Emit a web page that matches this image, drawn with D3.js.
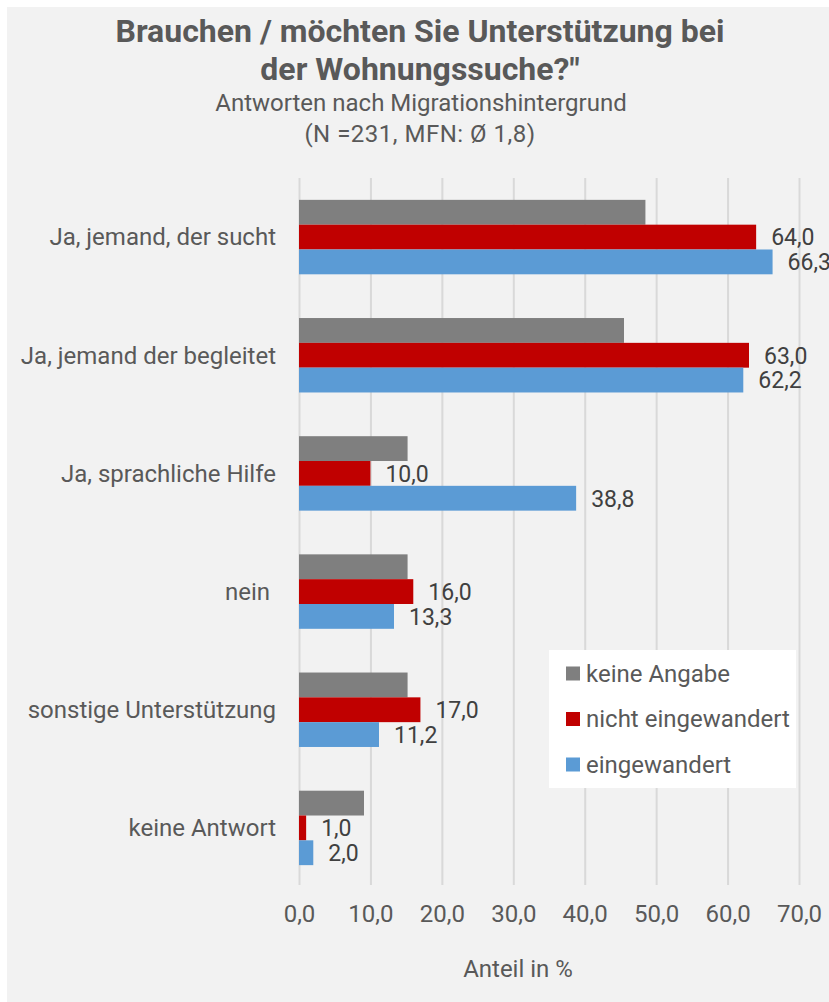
<!DOCTYPE html>
<html>
<head>
<meta charset="utf-8">
<script src="https://cdn.jsdelivr.net/npm/d3@7"></script>
<style>
  body { margin: 0; background: #fff; }
  svg text { font-family: Roboto, "Liberation Sans", sans-serif; }
</style>
</head>
<body>
<svg id="chart" width="829" height="1002"></svg>
<script>
// data
const categories = ["Ja, jemand, der sucht", "Ja, jemand der begleitet", "Ja, sprachliche Hilfe", "nein ", "sonstige Unterstützung", "keine Antwort"]
const seriesNames = ["keine Angabe", "nicht eingewandert", "eingewandert"]
const keineAngabe = [48.5, 45.5, 15.2, 15.2, 15.2, 9.1]
const nichtEingewandert = [64.0, 63.0, 10.0, 16.0, 17.0, 1.0]
const eingewandert = [66.3, 62.2, 38.8, 13.3, 11.2, 2.0]
// gray series has no labels in the original
const showLabel = [false, true, true]
const ticks = [0, 10, 20, 30, 40, 50, 60, 70]
const colors = ["#7f7f7f", "#c00000", "#5b9bd5"]

const values = [keineAngabe, nichtEingewandert, eingewandert]

const de = d3.formatLocale({decimal: ",", thousands: ".", grouping: [3], currency: ["", " €"]})
const fmt = de.format(".1f")

const svg = d3.select("#chart")

// panel background
svg.append("rect")
  .attr("x", 7).attr("y", 7)
  .attr("width", 822).attr("height", 995)
  .attr("fill", "#f2f2f2")

// titles
const titles = svg.append("g").attr("text-anchor", "middle").attr("fill", "#595959")
titles.append("text").attr("x", 420).attr("y", 42)
  .attr("font-size", "32px").attr("font-weight", "bold")
  .text("Brauchen / möchten Sie Unterstützung bei")
titles.append("text").attr("x", 420).attr("y", 80)
  .attr("font-size", "32px").attr("font-weight", "bold")
  .text("der Wohnungssuche?\"")
titles.append("text").attr("x", 421).attr("y", 111)
  .attr("font-size", "24px")
  .text("Antworten nach Migrationshintergrund")
titles.append("text").attr("x", 420).attr("y", 142)
  .attr("font-size", "24px")
  .attr("letter-spacing", "0.5px")
  .text("(N =231, MFN: Ø 1,8)")

const x = d3.scaleLinear().domain([0, 70]).range([299, 799])
const y = d3.scaleBand().domain(categories).range([178, 887]).paddingInner(0.37).paddingOuter(0.185)
const ySub = d3.scaleBand().domain(seriesNames).range([0, y.bandwidth()])

// gridlines + tick labels
const xAxis = d3.axisBottom(x)
  .tickValues(ticks)
  .tickFormat(fmt)
  .tickSize(-(885 - 178))
  .tickPadding(20)

const ax = svg.append("g")
  .attr("transform", "translate(0,885)")
  .call(xAxis)
ax.select(".domain").remove()
ax.selectAll(".tick line").attr("stroke", "#d9d9d9").attr("stroke-width", 2)
ax.selectAll(".tick text")
  .attr("fill", "#595959")
  .attr("font-size", "24px")
  .attr("font-family", "Roboto, 'Liberation Sans', sans-serif")

svg.append("text")
  .attr("x", 518).attr("y", 977)
  .attr("text-anchor", "middle")
  .attr("fill", "#595959")
  .attr("font-size", "24px")
  .text("Anteil in %")

// category labels
svg.append("g").selectAll("text")
  .data(categories)
  .enter()
  .append("text")
  .attr("x", 276)
  .attr("y", d => y(d) + y.bandwidth() / 2)
  .attr("dy", "0.35em")
  .attr("text-anchor", "end")
  .attr("fill", "#595959")
  .attr("font-size", "24px")
  .style("white-space", "pre")
  .text(d => d)

// bars
const rows = []
categories.forEach((c, i) => {
  seriesNames.forEach((s, j) => {
    rows.push({cat: c, series: s, idx: j, value: values[j][i]})
  })
})

svg.append("g").selectAll("rect")
  .data(rows)
  .enter()
  .append("rect")
  .attr("x", x(0))
  .attr("y", d => y(d.cat) + ySub(d.series))
  .attr("width", d => x(d.value) - x(0))
  .attr("height", ySub.bandwidth())
  .attr("fill", d => colors[d.idx])

svg.append("g").selectAll("text")
  .data(rows.filter(d => showLabel[d.idx]))
  .enter()
  .append("text")
  .attr("x", d => x(d.value) + 15)
  .attr("y", d => y(d.cat) + ySub(d.series) + ySub.bandwidth() / 2)
  .attr("dy", "0.36em")
  .attr("fill", "#404040")
  .attr("font-size", "23px")
  .text(d => fmt(d.value))

// legend
const legend = svg.append("g")
legend.append("rect")
  .attr("x", 549).attr("y", 650)
  .attr("width", 247).attr("height", 138)
  .attr("fill", "#ffffff")

const items = legend.selectAll("g.item")
  .data(seriesNames)
  .enter()
  .append("g")
  .attr("class", "item")
  .attr("transform", (d, i) => `translate(566,${673.5 + i * 45.5})`)
items.append("rect")
  .attr("x", 0).attr("y", -7)
  .attr("width", 14).attr("height", 14)
  .attr("fill", (d, i) => colors[i])
items.append("text")
  .attr("x", 20).attr("y", 0)
  .attr("dy", "0.35em")
  .attr("fill", "#595959")
  .attr("font-size", "24px")
  .text(d => d)
</script>
</body>
</html>
